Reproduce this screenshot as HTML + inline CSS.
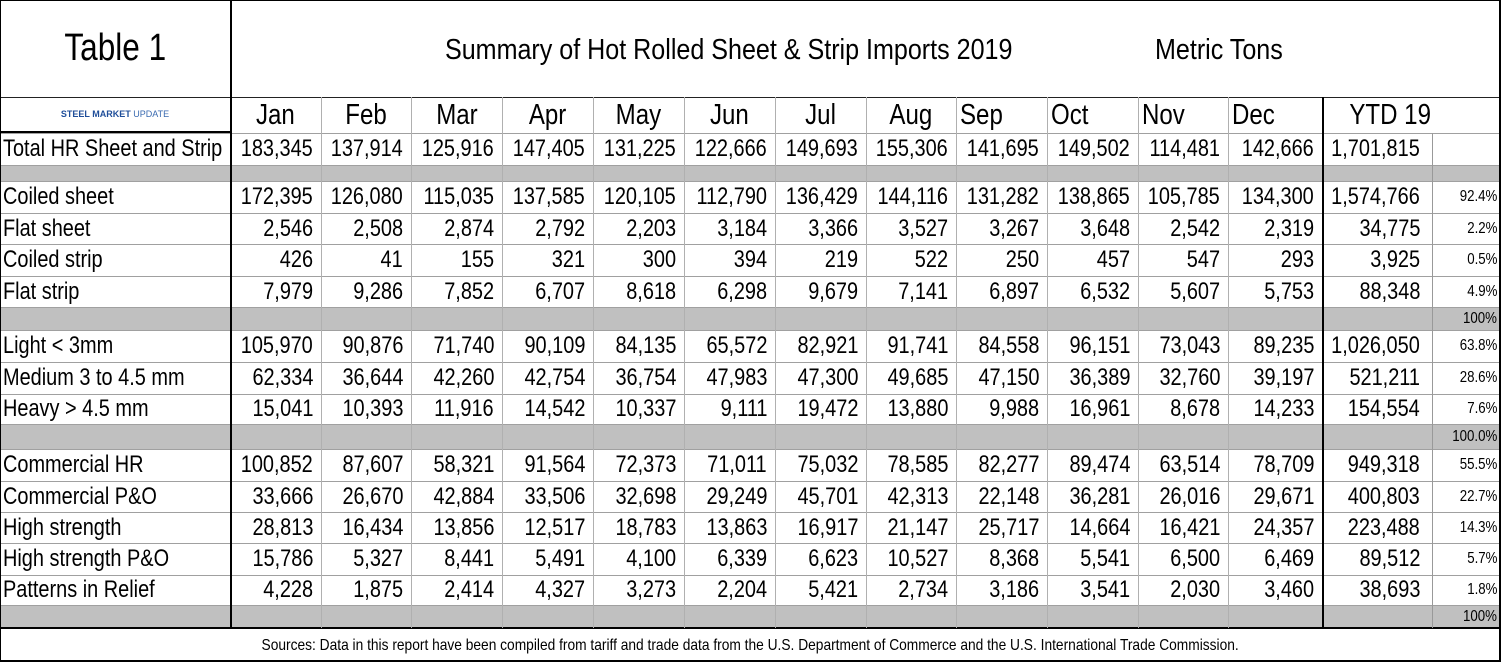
<!DOCTYPE html>
<html><head><meta charset="utf-8"><style>
body{margin:0;background:#fff;font-family:"Liberation Sans",Arial,sans-serif;}
#t{position:relative;width:1501px;height:662px;overflow:hidden;background:#fff}
.c{position:absolute;box-sizing:border-box;white-space:nowrap;color:#000;display:flex;align-items:center}
.c span{display:inline-block;transform:scaleX(.83)}
.c span.w{transform:scaleX(.865)}
.l{position:absolute;}
</style></head><body>
<div id="t">
<div class="c" style="left:0;top:0;width:230px;height:97px;justify-content:center;font-size:38px"><span>Table 1</span></div>
<div class="c" style="left:445px;top:30px;height:40px;font-size:29px"><span class="w" style="transform-origin:left">Summary of Hot Rolled Sheet &amp; Strip Imports 2019</span></div>
<div class="c" style="left:1155px;top:30px;height:40px;font-size:29px"><span class="w" style="transform-origin:left">Metric Tons</span></div>
<div class="c" style="left:0;top:97px;width:230px;height:34px;justify-content:center;font-size:9px;font-weight:bold;color:#1f4e9a"><b style="color:#1f4e9a">STEEL MARKET</b>&nbsp;<b style="font-weight:normal;color:#3a6ab0">UPDATE</b></div>
<div class="c" style="left:0;top:630px;width:1501px;height:32px;justify-content:center;font-size:16px"><span class="w" style="transform:scaleX(.86)">Sources: Data in this report have been compiled from tariff and trade data from the U.S. Department of Commerce and the U.S. International Trade Commission.</span></div>
</div>
<script>
const months=["Jan","Feb","Mar","Apr","May","Jun","Jul","Aug","Sep","Oct","Nov","Dec"];
const colX=[230,321,411,502,593,684,775,866,956,1047,1138,1228,1322,1432,1499];
const rows=[
["Total HR Sheet and Strip",["183,345","137,914","125,916","147,405","131,225","122,666","149,693","155,306","141,695","149,502","114,481","142,666"],"1,701,815",""],
null,
["Coiled sheet",["172,395","126,080","115,035","137,585","120,105","112,790","136,429","144,116","131,282","138,865","105,785","134,300"],"1,574,766","92.4%"],
["Flat sheet",["2,546","2,508","2,874","2,792","2,203","3,184","3,366","3,527","3,267","3,648","2,542","2,319"],"34,775","2.2%"],
["Coiled strip",["426","41","155","321","300","394","219","522","250","457","547","293"],"3,925","0.5%"],
["Flat strip",["7,979","9,286","7,852","6,707","8,618","6,298","9,679","7,141","6,897","6,532","5,607","5,753"],"88,348","4.9%"],
"100%",
["Light < 3mm",["105,970","90,876","71,740","90,109","84,135","65,572","82,921","91,741","84,558","96,151","73,043","89,235"],"1,026,050","63.8%"],
["Medium 3 to 4.5 mm",["62,334","36,644","42,260","42,754","36,754","47,983","47,300","49,685","47,150","36,389","32,760","39,197"],"521,211","28.6%"],
["Heavy > 4.5 mm",["15,041","10,393","11,916","14,542","10,337","9,111","19,472","13,880","9,988","16,961","8,678","14,233"],"154,554","7.6%"],
"100.0%",
["Commercial HR",["100,852","87,607","58,321","91,564","72,373","71,011","75,032","78,585","82,277","89,474","63,514","78,709"],"949,318","55.5%"],
["Commercial P&O",["33,666","26,670","42,884","33,506","32,698","29,249","45,701","42,313","22,148","36,281","26,016","29,671"],"400,803","22.7%"],
["High strength",["28,813","16,434","13,856","12,517","18,783","13,863","16,917","21,147","25,717","14,664","16,421","24,357"],"223,488","14.3%"],
["High strength P&O",["15,786","5,327","8,441","5,491","4,100","6,339","6,623","10,527","8,368","5,541","6,500","6,469"],"89,512","5.7%"],
["Patterns in Relief",["4,228","1,875","2,414","4,327","3,273","2,204","5,421","2,734","3,186","3,541","2,030","3,460"],"38,693","1.8%"],
"100%"
];
const rowY=[133,165,181,213,244,276,307,330,362,394,424,449,481,512,543,575,605,628];
const T=document.getElementById('t');
function cell(x,y,w,h,txt,fs,align,name,pr,pl){
 const d=document.createElement('div');d.className='c';
 
 
 d.style.cssText=`left:${x}px;top:${y}px;width:${w}px;height:${h}px;font-size:${fs}px;justify-content:${align};padding:0 ${pr}px 0 ${pl||0}px`;
 const s=document.createElement('span');
 s.style.transformOrigin=align==='flex-end'?'right':align==='flex-start'?'left':'center';
 s.textContent=txt;d.appendChild(s);T.appendChild(d);return d;}
function line(x,y,w,h,c,name){
 const d=document.createElement('div');d.className='l';
 
 
 d.style.cssText=`left:${x}px;top:${y}px;width:${w}px;height:${h}px;background:${c}`;T.appendChild(d);}
rows.forEach((r,i)=>{ if(!Array.isArray(r)){ const y=rowY[i],h=rowY[i+1]-y; line(0,y,1499,h,'#c0c0c0','gray-separator-band');
 if(r) cell(colX[13],y,colX[14]-colX[13],h,r,16,'flex-end','total-percent',2);} });
months.forEach((m,i)=>cell(colX[i],97,colX[i+1]-colX[i],36,m,29,i>=8?'flex-start':'center','month-header-'+m.toLowerCase(),0,i>=8?4:0));
cell(colX[12],97,colX[14]-colX[12],36,"YTD 19",29,'center','ytd-header',40);
rows.forEach((r,i)=>{ if(!Array.isArray(r))return; const y=rowY[i],h=rowY[i+1]-y;
 cell(0,y,230,h,r[0],24,'flex-start','row-label',0,3);
 r[1].forEach((v,j)=>cell(colX[j],y,colX[j+1]-colX[j],h,v,24,'flex-end','value-cell',8));
 cell(colX[12],y,110,h,r[2],24,'flex-end','ytd-value',12);
 if(r[3]) cell(colX[13],y,colX[14]-colX[13],h,r[3],16,'flex-end','ytd-percent',2);
});
rowY.forEach(y=>line(0,y,1499,1,'#a0a0a0','row-gridline'));
line(0,131,230,2,'#000','logo-bottom-border');
line(0,97,1501,1,'#222','header-top-border');
line(0,627,1501,2,'#000','sources-top-border');
for(let k=1;k<12;k++) line(colX[k],97,1,531,'#b0b0b0','column-gridline');
line(colX[13],133,1,495,'#999','percent-gridline');
line(230,0,2,628,'#000','label-column-border');
line(colX[12],97,2,531,'#000','ytd-column-border');
line(0,0,1501,1,'#000','outer-top');line(0,0,1,662,'#000','outer-left');
line(1499,0,2,662,'#000','outer-right');line(0,660,1501,2,'#000','outer-bottom');
</script>
</body></html>
